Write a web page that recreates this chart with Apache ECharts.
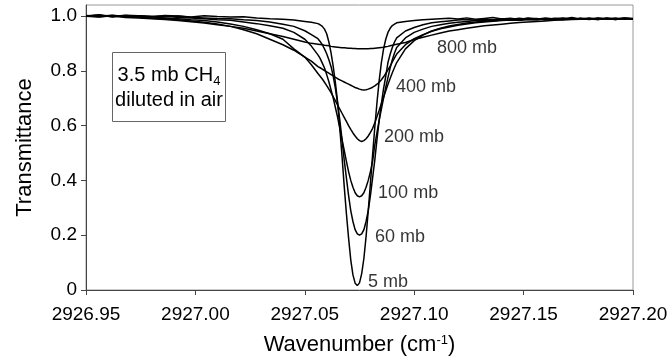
<!DOCTYPE html>
<html><head><meta charset="utf-8">
<script src="https://cdn.jsdelivr.net/npm/echarts@6/dist/echarts.min.js"></script>
<style>html,body{margin:0;padding:0;background:#fff}#c{width:672px;height:361px}</style>
</head><body><div id="c"></div>
<script>
// ---- data ----
const wavenumbers = [2926.950, 2926.956, 2926.962, 2926.968, 2926.974, 2926.980, 2926.986, 2926.992, 2926.998, 2927.004, 2927.010, 2927.016, 2927.022, 2927.028, 2927.034, 2927.040, 2927.045, 2927.050, 2927.053,
  2927.056, 2927.057, 2927.058, 2927.059, 2927.060, 2927.061, 2927.062, 2927.063, 2927.064, 2927.065, 2927.066, 2927.067, 2927.068, 2927.069, 2927.070, 2927.071, 2927.072, 2927.073, 2927.074, 2927.075, 2927.076, 2927.077, 2927.078, 2927.079, 2927.080, 2927.081, 2927.082, 2927.083, 2927.084, 2927.085, 2927.086, 2927.087, 2927.088, 2927.089, 2927.090, 2927.091, 2927.092,
  2927.096, 2927.100, 2927.104, 2927.108, 2927.112, 2927.116, 2927.120, 2927.124, 2927.128, 2927.132, 2927.136, 2927.140, 2927.144, 2927.148, 2927.152, 2927.156, 2927.160, 2927.164, 2927.168, 2927.172, 2927.176, 2927.180, 2927.184, 2927.188, 2927.192, 2927.196, 2927.200];

const t5mb = [1.000, 1.004, 0.998, 1.003, 1.001, 0.997, 1.002, 1.000, 0.996, 1.001, 0.998, 0.996, 0.997, 0.993, 0.990, 0.988, 0.985, 0.980, 0.977,
  0.972, 0.968, 0.962, 0.952, 0.935, 0.905, 0.865, 0.815, 0.755, 0.685, 0.590, 0.490, 0.380, 0.280, 0.190, 0.110, 0.055, 0.025, 0.016, 0.026, 0.060, 0.115, 0.195, 0.290, 0.390, 0.495, 0.595, 0.685, 0.765, 0.830, 0.880, 0.915, 0.940, 0.955, 0.965, 0.970, 0.975,
  0.980, 0.983, 0.986, 0.988, 0.990, 0.992, 0.989, 0.993, 0.988, 0.991, 0.994, 0.989, 0.992, 0.987, 0.993, 0.990, 0.986, 0.992, 0.989, 0.994, 0.988, 0.991, 0.987, 0.993, 0.989, 0.992, 0.990];

const t60mb = [1.002, 0.999, 1.003, 0.998, 1.001, 0.999, 0.996, 1.000, 0.995, 0.993, 0.991, 0.990, 0.986, 0.983, 0.978, 0.970, 0.962, 0.946, 0.932,
  0.917, 0.907, 0.895, 0.880, 0.862, 0.840, 0.815, 0.780, 0.735, 0.680, 0.620, 0.550, 0.475, 0.410, 0.345, 0.290, 0.250, 0.220, 0.205, 0.200, 0.205, 0.220, 0.250, 0.290, 0.345, 0.410, 0.475, 0.550, 0.620, 0.680, 0.735, 0.780, 0.830, 0.860, 0.885, 0.905, 0.920,
  0.945, 0.958, 0.968, 0.975, 0.979, 0.982, 0.985, 0.987, 0.984, 0.988, 0.986, 0.990, 0.987, 0.992, 0.988, 0.991, 0.986, 0.990, 0.993, 0.988, 0.991, 0.987, 0.992, 0.989, 0.993, 0.988, 0.991];

const t100mb = [0.999, 1.003, 0.997, 1.002, 0.999, 0.996, 1.001, 0.994, 0.993, 0.990, 0.986, 0.984, 0.978, 0.972, 0.964, 0.955, 0.940, 0.915, 0.890,
  0.858, 0.845, 0.828, 0.810, 0.786, 0.760, 0.730, 0.700, 0.665, 0.630, 0.590, 0.550, 0.510, 0.470, 0.432, 0.400, 0.375, 0.355, 0.344, 0.340, 0.344, 0.355, 0.375, 0.400, 0.432, 0.470, 0.530, 0.575, 0.620, 0.660, 0.700, 0.740, 0.775, 0.810, 0.840, 0.865, 0.885,
  0.920, 0.940, 0.952, 0.962, 0.968, 0.973, 0.977, 0.980, 0.983, 0.985, 0.984, 0.987, 0.990, 0.986, 0.991, 0.988, 0.993, 0.989, 0.987, 0.992, 0.989, 0.993, 0.988, 0.991, 0.987, 0.992, 0.990];

const t200mb = [1.001, 0.997, 1.002, 0.998, 0.995, 0.997, 0.993, 0.990, 0.986, 0.983, 0.978, 0.971, 0.962, 0.950, 0.935, 0.915, 0.880, 0.850, 0.822,
  0.790, 0.780, 0.770, 0.758, 0.746, 0.733, 0.720, 0.705, 0.690, 0.675, 0.660, 0.645, 0.630, 0.615, 0.600, 0.586, 0.573, 0.562, 0.552, 0.545, 0.542, 0.545, 0.552, 0.562, 0.575, 0.590, 0.610, 0.633, 0.656, 0.680, 0.703, 0.727, 0.750, 0.772, 0.793, 0.812, 0.830,
  0.880, 0.910, 0.930, 0.945, 0.955, 0.963, 0.969, 0.974, 0.978, 0.981, 0.982, 0.985, 0.987, 0.984, 0.988, 0.986, 0.990, 0.987, 0.991, 0.988, 0.992, 0.989, 0.993, 0.990, 0.987, 0.991, 0.988];

const t400mb = [1.000, 1.003, 0.997, 0.999, 0.995, 0.992, 0.990, 0.986, 0.982, 0.977, 0.971, 0.962, 0.950, 0.935, 0.915, 0.895, 0.875, 0.850, 0.835,
  0.815, 0.811, 0.806, 0.801, 0.796, 0.791, 0.786, 0.781, 0.776, 0.771, 0.767, 0.763, 0.759, 0.755, 0.751, 0.747, 0.743, 0.739, 0.736, 0.733, 0.731, 0.730, 0.731, 0.733, 0.736, 0.740, 0.745, 0.751, 0.758, 0.767, 0.778, 0.790, 0.803, 0.817, 0.832, 0.847, 0.861,
  0.895, 0.917, 0.932, 0.944, 0.953, 0.960, 0.966, 0.971, 0.975, 0.978, 0.981, 0.983, 0.985, 0.984, 0.987, 0.986, 0.989, 0.987, 0.990, 0.988, 0.991, 0.989, 0.987, 0.991, 0.989, 0.992, 0.990];

const t800mb = [0.999, 0.996, 1.001, 0.994, 0.993, 0.990, 0.987, 0.983, 0.979, 0.974, 0.968, 0.962, 0.955, 0.945, 0.935, 0.925, 0.915, 0.905, 0.900,
  0.897, 0.896, 0.895, 0.893, 0.892, 0.891, 0.889, 0.888, 0.887, 0.886, 0.885, 0.884, 0.884, 0.883, 0.882, 0.882, 0.881, 0.881, 0.880, 0.880, 0.880, 0.880, 0.880, 0.880, 0.881, 0.881, 0.882, 0.883, 0.884, 0.885, 0.886, 0.888, 0.889, 0.891, 0.893, 0.895, 0.897,
  0.903, 0.914, 0.922, 0.930, 0.938, 0.945, 0.950, 0.955, 0.960, 0.964, 0.967, 0.970, 0.973, 0.976, 0.978, 0.980, 0.982, 0.984, 0.985, 0.987, 0.988, 0.990, 0.988, 0.991, 0.989, 0.992, 0.990];

const curveNames = ['5 mb', '60 mb', '100 mb', '200 mb', '400 mb', '800 mb'];
const curveValues = [t5mb, t60mb, t100mb, t200mb, t400mb, t800mb];

const labelNames = ['800 mb', '400 mb', '200 mb', '100 mb', '60 mb', '5 mb'];
const labelX = [2927.1104, 2927.0917, 2927.0862, 2927.0835, 2927.0821, 2927.0789];
const labelY = [0.882, 0.740, 0.558, 0.354, 0.193, 0.029];

const xAxisRange = [2926.95, 2927.20];
const xInterval = 0.05;
const yAxisRange = [0, 1.04];
const yInterval = 0.2;

const boxLine1 = '3.5 mb CH';
const boxSub = '4';
const boxLine2 = 'diluted in air';

// ---- chart ----
const FONT = '"Liberation Sans", Arial, Helvetica, sans-serif';
const chart = echarts.init(document.getElementById('c'), null, {renderer: 'canvas'});

function measure(txt, size) {
  const cv = document.createElement('canvas').getContext('2d');
  cv.font = size + 'px ' + FONT;
  return cv.measureText(txt).width;
}

const series = curveValues.map((vals, k) => ({
  name: curveNames[k],
  type: 'line',
  symbol: 'none',
  showSymbol: false,
  animation: false,
  silent: true,
  data: wavenumbers.map((w, i) => [w, vals[i]]),
  lineStyle: {color: '#000', width: 1.5},
  z: 3
}));
series.push({
  type: 'scatter',
  symbolSize: 0,
  silent: true,
  animation: false,
  data: labelNames.map((n, i) => ({name: n, value: [labelX[i], labelY[i]]})),
  label: {show: true, position: 'right', distance: 0, formatter: p => p.name,
          color: '#000', fontSize: 18, fontFamily: FONT},
  z: 4
});

const boxLeft = 112.5, boxTop = 52.5, boxW = 113, boxH = 69;
const w1 = measure(boxLine1, 20), ws = measure(boxSub, 13);
const line1X = boxLeft + boxW / 2 - (w1 + ws) / 2;

chart.setOption({
  animation: false,
  backgroundColor: '#fff',
  grid: {left: 86, right: 39, top: 5, bottom: 71, show: true, borderColor: '#999', borderWidth: 1},
  xAxis: {
    type: 'value', min: xAxisRange[0], max: xAxisRange[1], interval: xInterval,
    axisLine: {onZero: false, lineStyle: {color: '#444', width: 1}},
    axisTick: {show: true, length: 5, lineStyle: {color: '#444'}},
    axisLabel: {margin: 15, fontSize: 19, color: '#000', fontFamily: FONT,
                formatter: v => v.toFixed(2), showMinLabel: true, showMaxLabel: true},
    splitLine: {show: false},
    name: 'Wavenumber (cm{sup|-1})', nameLocation: 'middle', nameGap: 44,
    nameTextStyle: {fontSize: 22, color: '#000', fontFamily: FONT,
      rich: {sup: {fontSize: 13, color: '#000', fontFamily: FONT, verticalAlign: 'top'}}}
  },
  yAxis: {
    type: 'value', min: yAxisRange[0], max: yAxisRange[1], interval: yInterval,
    axisLine: {show: true, lineStyle: {color: '#444', width: 1}},
    axisTick: {show: true, length: 5, lineStyle: {color: '#444'}},
    axisLabel: {margin: 9, fontSize: 19, color: '#000', fontFamily: FONT,
                formatter: v => (v === 0 ? '0' : v.toFixed(1)), showMaxLabel: false},
    splitLine: {show: false},
    name: 'Transmittance', nameLocation: 'middle', nameGap: 50,
    nameTextStyle: {fontSize: 22, color: '#000', fontFamily: FONT}
  },
  series: series,
  graphic: [
    {type: 'rect', shape: {x: boxLeft, y: boxTop, width: boxW, height: boxH},
     style: {fill: '#fff', stroke: '#666', lineWidth: 1}, z: 10},
    {type: 'text', x: line1X, y: 75, z: 11,
     style: {text: boxLine1, font: '20px ' + FONT, fill: '#000', textAlign: 'left', textVerticalAlign: 'middle', verticalAlign: 'middle'}},
    {type: 'text', x: line1X + w1, y: 81, z: 11,
     style: {text: boxSub, font: '13px ' + FONT, fill: '#000', textAlign: 'left', textVerticalAlign: 'middle', verticalAlign: 'middle'}},
    {type: 'text', x: boxLeft + boxW / 2, y: 100, z: 11,
     style: {text: boxLine2, font: '20px ' + FONT, fill: '#000', textAlign: 'center', textVerticalAlign: 'middle', verticalAlign: 'middle'}}
  ]
});
</script>
</body></html>
